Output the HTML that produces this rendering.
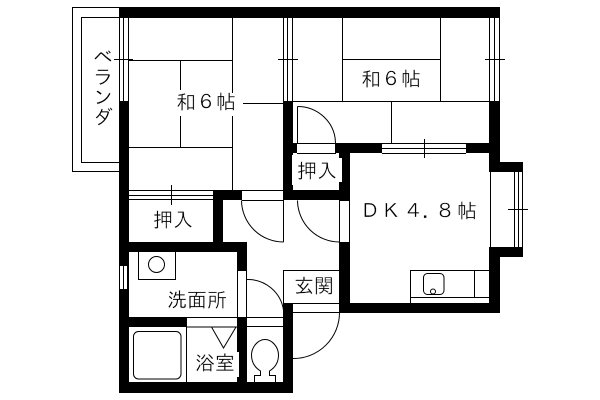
<!DOCTYPE html>
<html><head><meta charset="utf-8"><style>
html,body{margin:0;padding:0;background:#fff}
svg{display:block}
text{font-family:"IPAGothic","Liberation Sans","Noto Sans CJK JP",sans-serif;font-size:20px;fill:#000;stroke:#fff;stroke-width:.3px}
</style></head><body>
<svg width="600" height="400" viewBox="0 0 600 400" xmlns="http://www.w3.org/2000/svg">
<rect width="600" height="400" fill="#fff"/>
<g fill="none" stroke="#000" stroke-width="1" shape-rendering="crispEdges">
<!-- balcony -->
<path d="M119.5 7.5H72.5V171.5H119.5M119.5 17.5H81.5V162.5H119.5"/>
<!-- left window -->
<path d="M119.5 18V101M123.5 18V101M128.5 18V101M114 59.5H133M129 60.5H133"/>
<!-- room 1 -->
<path d="M129 60.5H232M232.5 18V93M232.5 116V190M180.5 60.5V90M180.5 116V147M129 147.5H232M243 103.5H283"/>
<!-- room 1 bottom window -->
<path d="M129 190.5H283M129 195.5H213M129 199.5H213M171.5 185V205"/>
<!-- mid window -->
<path d="M283.5 18V101M287.5 18V101M292.5 18V101M278 59.5H298"/>
<!-- room 2 -->
<path d="M342.5 18V101M440.5 18V101M342 59.5H440M293 101.5H490M391.5 101V143M293 143.5H382"/>
<!-- right window -->
<path d="M489.5 18V101M494.5 18V101M499.5 18V101M485 59.5H505"/>
<!-- window to DK -->
<path d="M382 143.5H466M382 148.5H466M382 153.5H466M424.5 139V158"/>
<!-- closet door -->
<path d="M297.5 143V106.5M297 153.5H336"/>
<!-- bay -->
<path d="M490.5 172V247M514.5 172V247M518.5 172V247M522.5 172V247M508 209.5H528"/>
<!-- kitchen -->
<path d="M410.5 303V270.5H490M410.5 297.5H490M474.5 270V297"/>
<!-- hall -->
<path d="M242 200.5H283M283.5 190V242M339.5 200V242M349.5 200V242M339 200.5H350"/>
<!-- entry -->
<path d="M283.5 270V303M283 270.5H339M283 303.5H339M293 312.5H339M339.5 303V313"/>
<!-- washroom door -->
<path d="M237.5 271V317M246.5 271V317M237 270.5H247M237 317.5H283M186 327H237"/>
<!-- toilet + bath lines -->
<path d="M247 326.5H283M186.5 317V382M186 317.5H237"/>
<!-- sink -->
<path d="M138.5 252V279.5H175.5V252"/>
<!-- small window left -->
<path d="M119.5 266V289M123.5 266V289M127.5 266V289M128.5 266V289"/>
</g>
<!-- walls -->
<g fill="#000" shape-rendering="crispEdges">
<rect x="119" y="7" width="381" height="11"/>
<rect x="119" y="101" width="10" height="165"/>
<rect x="119" y="289" width="10" height="104"/>
<rect x="283" y="101" width="10" height="99"/>
<rect x="283" y="143" width="14" height="10"/>
<rect x="335" y="143" width="47" height="10"/>
<rect x="466" y="143" width="34" height="10"/>
<rect x="489" y="101" width="11" height="61"/>
<rect x="339" y="143" width="11" height="57"/>
<rect x="283" y="190" width="67" height="10"/>
<rect x="213" y="190" width="29" height="10"/>
<rect x="213" y="190" width="10" height="62"/>
<rect x="119" y="242" width="128" height="10"/>
<rect x="237" y="242" width="10" height="29"/>
<rect x="237" y="317" width="10" height="76"/>
<rect x="119" y="317" width="67" height="10"/>
<rect x="119" y="382" width="174" height="11"/>
<rect x="283" y="303" width="10" height="90"/>
<rect x="339" y="242" width="11" height="71"/>
<rect x="339" y="303" width="161" height="10"/>
<rect x="489" y="247" width="11" height="66"/>
<rect x="489" y="162" width="34" height="10"/>
<rect x="489" y="247" width="34" height="10"/>
</g>
<!-- label halos biting into walls -->
<g fill="#fff" shape-rendering="crispEdges">
<rect x="292" y="155" width="1" height="30"/>
<rect x="339" y="158" width="3" height="24"/>
<rect x="237" y="352" width="2" height="25"/>
</g>
<!-- curves -->
<g fill="none" stroke="#000" stroke-width="1">
<path d="M297.5 106.5A38 37 0 0 1 335.5 143"/>
<path d="M241.5 200.5A42 42 0 0 0 283.5 242"/>
<path d="M297.5 200.5A42 42 0 0 0 339.5 242"/>
<path d="M247 279.5A36 36 0 0 1 283.5 310"/>
<path d="M339.5 312.5A46 46 0 0 1 293 358.5"/>
<circle cx="156.5" cy="264.5" r="8"/>
<rect x="133.5" y="331.5" width="47.5" height="47.5" rx="5"/>
<path d="M211.5 327L223.5 348L236 327"/>
<path d="M254.5 382V375.5H260.5V371C254 367 251.5 361 251.5 355C251.5 347 258 339.5 265 339.5C272 339.5 278.5 347 278.5 355C278.5 361 276 367 269.5 371V375.5H275.5V382"/>
<rect x="423.5" y="273.5" width="20.5" height="21" rx="4"/>
<circle cx="433" cy="291.5" r="2.5"/>
</g>
<!-- labels -->
<text x="176" y="109">和６帖</text>
<text x="361" y="86">和６帖</text>
<text x="297" y="178">押入</text>
<text x="153" y="227">押入</text>
<text x="167" y="307">洗面所</text>
<text x="294" y="293">玄関</text>
<text x="195" y="370">浴室</text>
<text x="360" y="218">Ｄ</text>
<text x="381" y="218">Ｋ</text>
<text x="404" y="218">４</text>
<text x="422" y="218">．</text>
<text x="435" y="218">８</text>
<text x="457" y="218">帖</text>
<text x="103" y="46" style="writing-mode:vertical-rl">ベランダ</text>
</svg>
</body></html>
